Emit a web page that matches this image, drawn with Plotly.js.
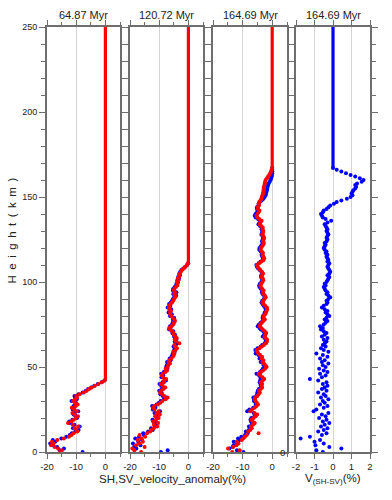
<!DOCTYPE html>
<html><head><meta charset="utf-8">
<script src="https://cdn.plot.ly/plotly-3.0.1.min.js"></script>
<style>html,body{margin:0;padding:0;background:#fff}#chart{width:392px;height:500px}</style>
</head><body><div id="chart"></div>
<script>
// ---------- data ----------
const panelTitles = ['64.87 Myr', '120.72 Myr', '164.69 Myr', '164.69 Myr'];
const xTickValsA = [-20, -10, 0];
const xTickTextA = ['-20', '-10', '0'];
const xTickValsB = [-2, -1, 0, 1, 2];
const xTickTextB = ['-2', '-1', '0', '1', '2'];
const yTickVals = [0, 50, 100, 150, 200, 250];

// Panel 1 (64.87 Myr): heights (km) and SH / SV anomaly (%)
const h1 = [0,1,2,3,4,5,6,7,8,9,10,11,12,13,14,15,16,17,18,19,20,21,22,23,24,25,26,27,28,29,30,31,32,33,34,35,36,37,38,39,40,41,42];
const red1 = [-15.5,-14.9,-16.2,-17.4,-18.6,-17.8,-18.3,-16.5,-14.2,-12.5,
  -11.6,-10.9,-9.6,-9.9,-10.5,-9.3,-11.2,-12.8,-11.6,-10.8,
  -10.1,-9.4,-10.6,-11.3,-9.8,-10.7,-11.5,-10.2,-9.5,-10.4,
  -11.1,-10.3,-9.7,-10.0,-8.8,-7.4,-6.4,-5.6,-4.7,-3.6,
  -2.4,-1.2,-0.3];
const blue1 = [-7.8,-15.6,-14.2,-16.5,-17.9,-18.9,-17.2,-18.0,-15.1,-13.4,
  -12.2,-11.5,-10.3,-9.2,-11.1,-8.8,-10.6,-12.1,-12.4,-11.3,
  -9.7,-10.2,-10.9,-10.5,-9.3,-11.2,-10.8,-10.9,-9.9,-10.1,
  -11.6,-9.8,-10.4,-10.6,-9.2,-7.8,-6.7,-5.9,-4.9,-3.8,
  -2.6,-1.3,-0.3];
const top1H = [42, 250];
const top1V = [0, 0];

// Panel 2 (120.72 Myr)
const h2 = [0,1,2,3,4,5,6,7,8,9,10,11,12,13,14,15,16,17,18,19,20,21,22,23,24,25,26,27,28,29,
  30,31,32,33,34,35,36,37,38,39,40,41,42,43,44,45,46,47,48,49,50,51,52,53,54,55,56,57,58,59,
  60,61,62,63,64,65,66,67,68,69,70,71,72,73,74,75,76,77,78,79,80,81,82,83,84,85,86,87,88,89,
  90,91,92,93,94,95,96,97,98,99,100,101,102,103,104,105,106,107,108,109,110,111];
const red2 = [-16.2,-18.5,-19.2,-15.0,-17.9,-16.8,-15.6,-17.3,-16.1,-14.8,
  -16.7,-14.2,-13.1,-12.7,-11.9,-10.7,-11.8,-10.4,-12.1,-11.1,
  -10.2,-11.4,-9.8,-10.9,-10.2,-11.6,-12.0,-11.7,-10.5,-9.6,
  -8.9,-7.8,-7.1,-8.3,-9.0,-9.7,-9.4,-8.6,-7.9,-8.8,
  -9.5,-8.4,-8.3,-7.6,-8.7,-9.1,-8.8,-7.9,-7.3,-7.8,
  -7.1,-6.9,-6.3,-6.8,-6.6,-5.9,-5.3,-5.0,-4.8,-5.2,
  -4.4,-3.9,-4.6,-4.8,-3.1,-4.2,-4.7,-4.0,-4.5,-5.0,
  -5.1,-5.6,-6.2,-6.6,-5.8,-5.2,-4.9,-4.6,-4.8,-5.4,
  -5.9,-6.2,-6.3,-6.0,-6.4,-6.7,-6.6,-6.1,-5.6,-5.2,
  -4.9,-4.5,-4.5,-4.8,-4.6,-4.9,-4.8,-4.3,-3.8,-3.7,
  -3.9,-3.4,-3.6,-3.2,-3.2,-2.9,-2.6,-2.2,-1.6,-1.0,
  -0.5,-0.1];
const blue2 = [-9.4,-7.1,-17.8,-18.6,-16.4,-19.0,-17.2,-15.9,-18.2,-16.9,
  -15.3,-15.5,-13.8,-12.2,-12.8,-11.4,-10.9,-11.7,-11.2,-12.3,
  -10.8,-11.0,-10.5,-11.6,-9.7,-12.2,-11.3,-12.4,-10.9,-10.1,
  -9.5,-8.4,-7.6,-8.8,-9.6,-9.2,-10.0,-9.1,-8.5,-9.3,
  -9.9,-8.9,-7.7,-8.1,-9.2,-8.6,-9.3,-8.4,-7.8,-7.2,
  -7.6,-7.4,-6.8,-7.3,-6.1,-6.4,-5.8,-5.5,-5.3,-4.7,
  -4.9,-4.5,-5.1,-4.3,-3.7,-4.7,-4.1,-4.5,-4.9,-4.6,
  -5.5,-5.2,-6.6,-6.1,-6.3,-5.6,-5.4,-5.0,-5.3,-4.9,
  -6.3,-5.7,-6.8,-6.5,-5.9,-7.1,-6.2,-6.6,-6.0,-5.6,
  -5.3,-4.9,-4.2,-5.2,-4.1,-5.3,-5.2,-4.7,-4.2,-4.1,
  -3.5,-3.8,-3.2,-3.5,-2.9,-3.1,-2.8,-2.4,-1.8,-1.1,
  -0.5,-0.1];
const top2H = [111, 250];
const top2V = [0, 0];

// Panels 3 and 4 (164.69 Myr)
const h3 = [0,1,2,3,4,5,6,7,8,9,10,11,12,13,14,15,16,17,18,19,20,21,22,23,24,25,26,27,28,29,
  30,31,32,33,34,35,36,37,38,39,40,41,42,43,44,45,46,47,48,49,50,51,52,53,54,55,56,57,58,59,
  60,61,62,63,64,65,66,67,68,69,70,71,72,73,74,75,76,77,78,79,80,81,82,83,84,85,86,87,88,89,
  90,91,92,93,94,95,96,97,98,99,100,101,102,103,104,105,106,107,108,109,110,111,112,113,114,115,116,117,118,119,
  120,121,122,123,124,125,126,127,128,129,130,131,132,133,134,135,136,137,138,139,140,141,142,143,144,145,146,147,148,149,
  150,151,152,153,154,155,156,157,158,159,160,161,162,163,164,165,166,167];
const red3 = [-13.5,-11.0,-14.9,-13.2,-12.1,-11.4,-12.0,-10.3,-9.8,-9.2,
  -8.6,-4.6,-8.1,-7.4,-6.9,-7.2,-6.5,-5.9,-6.6,-7.0,
  -6.3,-5.6,-5.1,-6.0,-7.4,-6.8,-5.9,-5.3,-4.8,-5.2,
  -5.6,-5.9,-5.7,-5.0,-4.6,-4.2,-4.5,-3.9,-3.4,-3.6,
  -3.4,-3.9,-3.2,-2.7,-3.3,-4.0,-4.6,-3.8,-3.1,-2.4,
  -1.9,-2.3,-2.8,-3.3,-3.0,-3.6,-3.4,-4.1,-4.7,-5.0,
  -5.2,-4.3,-3.5,-2.8,-2.1,-1.8,-1.7,-2.2,-2.6,-2.3,
  -2.0,-2.5,-3.2,-3.7,-4.2,-4.0,-3.5,-3.0,-2.5,-2.9,
  -2.9,-2.4,-2.1,-1.9,-1.7,-1.8,-2.4,-2.9,-3.3,-3.0,
  -2.6,-2.2,-2.5,-2.9,-3.2,-2.9,-3.4,-3.8,-4.0,-3.7,
  -3.3,-3.0,-3.2,-3.6,-3.4,-3.1,-3.5,-4.0,-4.5,-4.9,
  -5.1,-4.4,-3.6,-2.9,-2.7,-3.0,-3.3,-3.1,-3.5,-3.9,
  -3.8,-3.4,-3.0,-2.8,-3.1,-2.9,-2.7,-3.0,-3.4,-3.1,
  -3.0,-3.3,-3.2,-3.7,-4.2,-4.0,-3.6,-4.4,-5.0,-5.3,
  -5.0,-4.6,-4.3,-4.8,-4.9,-4.5,-4.6,-4.4,-4.0,-3.7,
  -3.5,-3.3,-3.1,-3.0,-2.9,-2.9,-2.8,-2.6,-2.5,-2.4,
  -2.2,-1.8,-1.4,-1.0,-0.7,-0.4,-0.2,0.0];
const blue3 = [-9.7,-11.9,-14.45,-13.4,-13.05,-11.9,-13.0,-11.0,-11.55,-10.45,
  -9.2,-8.3,-8.9,-7.9,-7.2,-7.85,-6.95,-6.1,-7.15,-7.35,
  -7.05,-6.0,-5.7,-6.25,-8.45,-7.7,-6.4,-5.6,-5.5,-5.65,
  -6.15,-6.15,-6.35,-5.4,-5.1,-5.0,-4.85,-4.5,-3.85,-3.9,
  -3.95,-4.25,-4.0,-3.95,-3.9,-4.4,-5.3,-4.1,-3.6,-3.15,
  -2.3,-2.85,-3.05,-3.9,-3.45,-4.3,-3.7,-4.65,-5.6,-5.25,
  -5.7,-4.95,-3.9,-3.35,-2.55,-2.15,-2.2,-2.5,-3.2,-2.75,
  -2.35,-3.0,-3.85,-4.25,-4.9,-4.5,-3.9,-3.3,-2.95,-3.25,
  -3.1,-2.7,-2.5,-2.2,-2.15,-2.4,-2.9,-3.25,-3.6,-3.35,
  -2.85,-2.35,-2.75,-3.25,-3.5,-3.3,-3.85,-4.3,-4.4,-4.15,
  -3.65,-3.3,-3.45,-3.8,-3.7,-3.3,-3.65,-4.2,-4.75,-5.2,
  -5.35,-4.6,-3.9,-3.15,-3.0,-3.35,-3.6,-3.5,-3.85,-4.35,
  -4.3,-3.85,-3.4,-3.25,-3.45,-3.2,-3.05,-3.3,-3.65,-3.4,
  -3.35,-3.6,-3.55,-4.1,-4.65,-4.3,-3.7,-4.8,-5.55,-5.9,
  -5.65,-5.15,-4.8,-5.15,-5.15,-4.65,-4.55,-4.2,-3.55,-2.95,
  -2.55,-2.25,-2.1,-1.95,-1.8,-1.7,-1.55,-1.4,-1.2,-0.85,
  -0.55,-0.35,-0.2,-0.05,0.0,0.05,0.0,0.0];
const top3H = [167, 250];
const top3V = [0, 0];

// Panel 4: V(SH-SV) (%)
const diff4 = [-0.55,-0.9,0.45,-0.2,-0.95,-0.5,-1.0,-0.7,-1.75,-1.25,
  -0.6,-0.35,-0.8,-0.5,-0.3,-0.65,-0.45,-0.2,-0.55,-0.35,
  -0.75,-0.4,-0.6,-0.25,-1.05,-0.9,-0.5,-0.3,-0.7,-0.45,
  -0.55,-0.25,-0.65,-0.4,-0.5,-0.8,-0.35,-0.6,-0.45,-0.3,
  -0.55,-0.35,-0.8,-1.25,-0.6,-0.4,-0.7,-0.3,-0.5,-0.75,
  -0.4,-0.55,-0.25,-0.6,-0.45,-0.7,-0.3,-0.55,-0.9,-0.25,
  -0.5,-0.65,-0.4,-0.55,-0.45,-0.35,-0.5,-0.3,-0.6,-0.45,
  -0.35,-0.5,-0.65,-0.55,-0.7,-0.5,-0.4,-0.3,-0.45,-0.35,
  -0.2,-0.3,-0.4,-0.3,-0.45,-0.6,-0.5,-0.35,-0.3,-0.35,
  -0.25,-0.15,-0.25,-0.35,-0.3,-0.4,-0.45,-0.5,-0.4,-0.45,
  -0.35,-0.3,-0.25,-0.2,-0.3,-0.2,-0.15,-0.2,-0.25,-0.3,
  -0.25,-0.2,-0.3,-0.25,-0.3,-0.35,-0.3,-0.4,-0.35,-0.45,
  -0.5,-0.45,-0.4,-0.45,-0.35,-0.3,-0.35,-0.3,-0.25,-0.3,
  -0.35,-0.3,-0.35,-0.4,-0.45,-0.3,-0.1,-0.4,-0.55,-0.6,
  -0.65,-0.55,-0.5,-0.35,-0.25,-0.15,0.05,0.2,0.45,0.75,
  0.95,1.05,1.0,1.05,1.1,1.2,1.25,1.2,1.3,1.55,
  1.65,1.45,1.2,0.95,0.7,0.45,0.2,0.0];
const top4H = [167, 250];
const top4V = [0, 0];

// ---------- styling ----------
const RED = '#ff0000', BLUE = '#0000ff';
const MS = 4, LW = 3.2;
const AX = '#6e6e6e';
const FONT = 'Liberation Sans, Arial, sans-serif';

function pts(x, y, color, xa, ya) {
  return {type:'scatter', mode:'markers', x:x, y:y, xaxis:xa, yaxis:ya,
    marker:{color:color, size:MS, line:{width:0}}, hoverinfo:'skip'};
}
function seg(x, y, color, xa, ya) {
  return {type:'scatter', mode:'lines', x:x, y:y, xaxis:xa, yaxis:ya,
    line:{color:color, width:LW}, hoverinfo:'skip'};
}

const traces = [
  pts(blue1, h1, BLUE, 'x', 'y'), seg(top1V, top1H, RED, 'x', 'y'), pts(red1, h1, RED, 'x', 'y'),
  pts(blue2, h2, BLUE, 'x2', 'y2'), seg(top2V, top2H, RED, 'x2', 'y2'), pts(red2, h2, RED, 'x2', 'y2'),
  pts(blue3, h3, BLUE, 'x3', 'y3'), seg(top3V, top3H, RED, 'x3', 'y3'), pts(red3, h3, RED, 'x3', 'y3'),
  seg(top4V, top4H, BLUE, 'x4', 'y4'), pts(diff4, h3, BLUE, 'x4', 'y4')
];

// plot area: 47..370 px (323 px), 27..452 px (425 px)
const W = 323;
const doms = [[0, 73/W], [83/W, 156/W], [166/W, 240/W], [249/W, 1]];

function xAx(i, range, tv, tt, minor) {
  const a = {domain:doms[i], range:range, anchor:(i===0?'y':'y'+(i+1)),
    tickmode:'array', tickvals:tv, ticktext:tt, ticks:'outside', ticklen:5, tickwidth:1, tickcolor:AX,
    showline:true, linecolor:AX, linewidth:2, mirror:'ticks',
    showgrid:true, gridcolor:'#d4d4d4', gridwidth:1, zeroline:false,
    tickfont:{family:FONT, size:9.5, color:'#222'}, fixedrange:true};
  if (minor) a.minor = {tickmode:'linear', tick0:0, dtick:minor, ticks:'outside', ticklen:3, tickcolor:AX, showgrid:false};
  return a;
}
function yAx(i) {
  return {domain:[0,1], range:[0,250], anchor:(i===0?'x':'x'+(i+1)),
    tickmode:'array', tickvals:yTickVals, ticks:'outside', ticklen:6, tickwidth:1, tickcolor:AX,
    minor:{tickmode:'linear', tick0:0, dtick:10, ticks:'outside', ticklen:4, tickcolor:AX, showgrid:false},
    showline:true, linecolor:AX, linewidth:2, mirror:'ticks',
    showgrid:false, zeroline:false, showticklabels:(i===0),
    tickfont:{family:FONT, size:9, color:'#222'}, fixedrange:true};
}

const annotations = [];
doms.forEach((d, i) => {
  annotations.push({text:panelTitles[i], xref:'paper', yref:'paper', x:(d[0]+d[1])/2, y:1,
    xanchor:'center', yanchor:'bottom', yshift:4, showarrow:false,
    font:{family:FONT, size:11, color:'#222'}});
});
annotations.push({text:'SH,SV_velocity_anomaly(%)', xref:'paper', yref:'paper', x:(172-47)/W, y:(452-479)/425,
  xanchor:'center', yanchor:'middle', showarrow:false, font:{family:FONT, size:11.5, color:'#222'}});
annotations.push({text:'V<sub>(SH-SV)</sub>(%)', xref:'paper', yref:'paper', x:(333-47)/W, y:(452-479)/425,
  xanchor:'center', yanchor:'middle', showarrow:false, font:{family:FONT, size:11.5, color:'#222'}});
annotations.push({text:'Height(km)', xref:'paper', yref:'paper', x:(12-47)/W, y:(452-228)/425,
  xanchor:'center', yanchor:'middle', textangle:-90, showarrow:false, font:{family:FONT, size:11.5, color:'#222'}});
annotations.push({text:'0', xref:'paper', yref:'paper', x:(282-47)/W, y:0,
  xanchor:'center', yanchor:'middle', showarrow:false, font:{family:FONT, size:9.5, color:'#222'}});

const layout = {
  width:392, height:500, margin:{l:47, r:22, t:27, b:48, pad:0},
  paper_bgcolor:'#fff', plot_bgcolor:'#fff', showlegend:false,
  font:{family:FONT, size:10, color:'#222'},
  xaxis: xAx(0, [-20,5], xTickValsA, xTickTextA, 5),
  xaxis2: xAx(1, [-20,5], xTickValsA, xTickTextA, 5),
  xaxis3: xAx(2, [-20,5], xTickValsA, xTickTextA, 5),
  xaxis4: xAx(3, [-2,2], xTickValsB, xTickTextB, null),
  yaxis: yAx(0), yaxis2: yAx(1), yaxis3: yAx(2), yaxis4: yAx(3),
  annotations: annotations
};

Plotly.newPlot('chart', traces, layout, {displayModeBar:false, staticPlot:true}).then(function (gd) {
  // the reference draws the y title with wide letter spacing
  gd.querySelectorAll('.annotation-text').forEach(function (t) {
    if (t.textContent === 'Height(km)') {
      t.style.letterSpacing = '5.5px';
    }
  });
});
</script>
</body></html>
